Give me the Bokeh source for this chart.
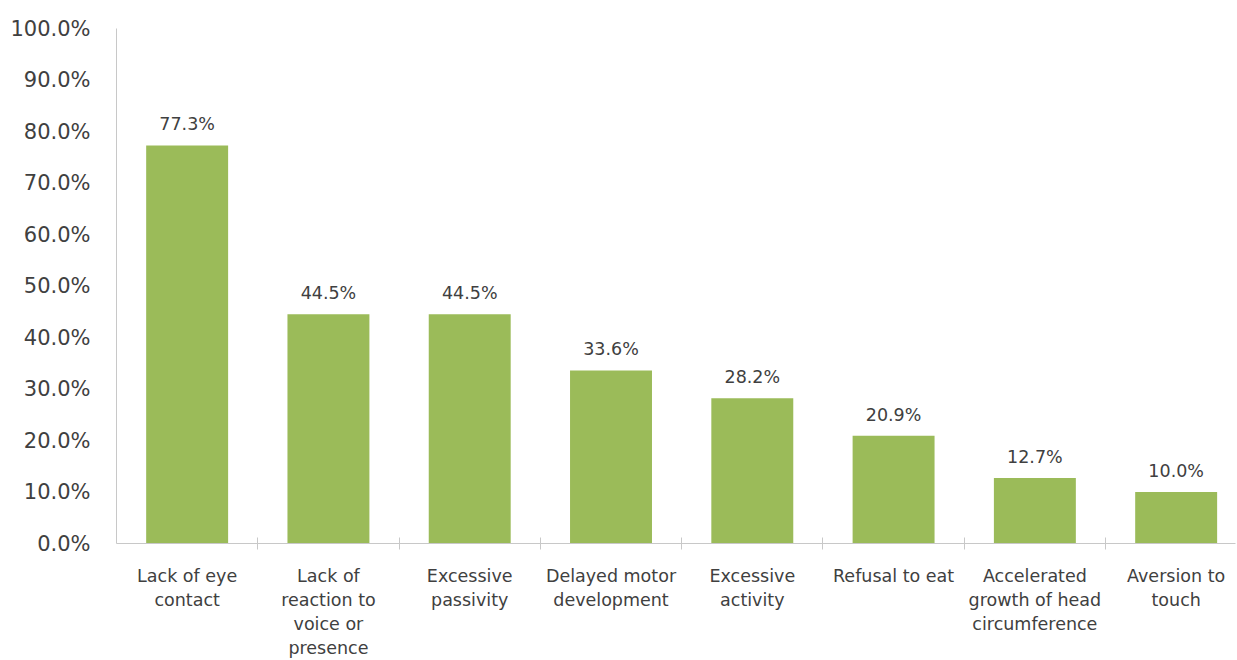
from bokeh.plotting import figure
from bokeh.models import ColumnDataSource, FixedTicker, PrintfTickFormatter, Range1d
from bokeh.core.properties import value
from bokeh.embed import file_html
from bokeh.resources import INLINE

categories = [
    "Lack of eye\ncontact",
    "Lack of\nreaction to\nvoice or\npresence",
    "Excessive\npassivity",
    "Delayed motor\ndevelopment",
    "Excessive\nactivity",
    "Refusal to eat",
    "Accelerated\ngrowth of head\ncircumference",
    "Aversion to\ntouch",
]
percentages = [77.3, 44.5, 44.5, 33.6, 28.2, 20.9, 12.7, 10.0]
y_ticks = [0, 10, 20, 30, 40, 50, 60, 70, 80, 90, 100]

FONT = "DejaVu Sans"
TEXT = "#404040"
AXIS = "#c8c8c8"

xs = [i + 0.5 for i in range(len(categories))]
src = ColumnDataSource(dict(
    x=xs,
    top=percentages,
    lbl=["%.1f%%" % v for v in percentages],
))

p = figure(width=1237, height=660, output_backend="svg", toolbar_location=None,
           x_range=Range1d(0, 7.92), y_range=Range1d(0, 100),
           min_border_left=116, min_border_right=2, min_border_top=28,
           min_border_bottom=117)
p.outline_line_color = None
p.xgrid.grid_line_color = None
p.ygrid.grid_line_color = None
p.background_fill_color = "white"
p.border_fill_color = "white"

p.vbar(x="x", top="top", bottom=0, width=0.58, source=src,
       fill_color="#9BBB59", line_color=None)

p.text(x="x", y="top", text="lbl", source=src, y_offset=-21,
       text_align="center", text_baseline="middle",
       text_font=value(FONT), text_font_size="17.5px", text_color=TEXT)

# y axis
p.yaxis.ticker = FixedTicker(ticks=y_ticks)
p.yaxis.formatter = PrintfTickFormatter(format="%.1f%%")
p.yaxis.major_tick_out = 0
p.yaxis.major_tick_in = 0
p.yaxis.minor_tick_line_color = None
p.yaxis.major_label_standoff = 26
p.yaxis.axis_line_color = AXIS
p.yaxis.major_label_text_font = FONT
p.yaxis.major_label_text_font_size = "21px"
p.yaxis.major_label_text_color = TEXT

# x axis: labels at centres, tick marks at category boundaries
p.xaxis.ticker = FixedTicker(ticks=xs, minor_ticks=[1, 2, 3, 4, 5, 6, 7])
p.xaxis.major_label_overrides = {x: c for x, c in zip(xs, categories)}
p.xaxis.major_tick_in = 0
p.xaxis.major_tick_out = 0
p.xaxis.minor_tick_in = 6
p.xaxis.minor_tick_out = 6
p.xaxis.minor_tick_line_color = AXIS
p.xaxis.axis_line_color = AXIS
p.xaxis.major_label_standoff = 16
p.xaxis.major_label_text_font = FONT
p.xaxis.major_label_text_font_size = "17.5px"
p.xaxis.major_label_text_color = TEXT
p.xaxis.major_label_orientation = "horizontal"

open("out.html", "w").write(file_html(p, INLINE))
